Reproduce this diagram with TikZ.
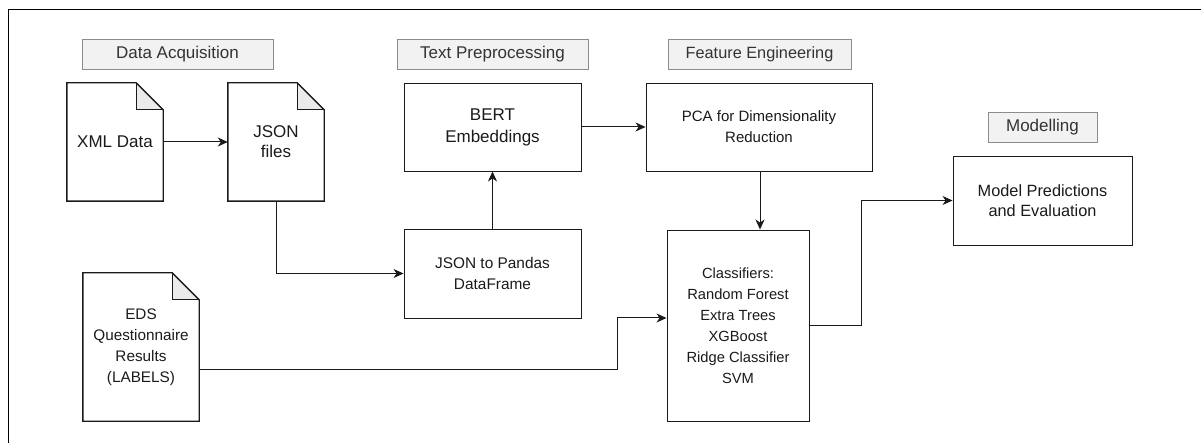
\documentclass[tikz,border=0pt]{standalone}
\usepackage{fontspec}
\setmainfont{Liberation Sans}
\usetikzlibrary{arrows.meta,calc}
\definecolor{lblfill}{HTML}{F2F2F2}
\definecolor{lbldraw}{HTML}{8C8C8C}
\definecolor{lbltext}{HTML}{333333}
\definecolor{foldfill}{HTML}{EBEBEB}
\definecolor{boxline}{HTML}{1A1A1A}
\newcommand{\fs}[2]{\fontsize{#1}{#2}\selectfont}
\begin{document}
\begin{tikzpicture}[x=1pt,y=-1pt,
  every node/.style={font=\fs{17}{21}, align=center, inner sep=0pt, text=boxline},
  stagelbl/.style={draw=lbldraw, fill=lblfill, text=lbltext, minimum height=30pt, line width=0.9pt},
  procbox/.style={draw=boxline, line width=0.95pt, minimum height=88pt},
  docnode/.style={minimum width=96pt, minimum height=118pt},
  conn/.style={draw=boxline, line width=1pt, -{Stealth[length=10pt,width=9pt,inset=3pt]}},
  docline/.style={draw=boxline, line width=1.4pt, line join=miter}
]
\useasboundingbox (0,0) rectangle (1201,443);
% outer frame (partly cropped)
\draw[line width=1pt] (8,443) -- (8,9.5) -- (1201,9.5);

% stage labels
\node[stagelbl, minimum width=191pt] (acq)  at (177.5,54) {Data Acquisition};
\node[stagelbl, minimum width=191pt] (pre)  at (492.5,54) {Text Preprocessing};
\node[stagelbl, minimum width=183pt, font=\fs{16.3}{20}] (feat) at (759.5,54) {Feature Engineering};
\node[stagelbl, minimum width=109pt] (mod)  at (1042.5,127) {Modelling};

% documents
\node[docnode] (xml)  at (115,142) {XML Data};
\node[docnode, font=\fs{17}{20}] (json) at (276,142) {JSON\\files};
\node[docnode, minimum width=116pt, minimum height=148pt, font=\fs{15.3}{21}] (eds) at (141,347) {EDS\\Questionnaire\\Results\\(LABELS)};
\foreach \d in {xml,json,eds}{
  \fill[foldfill] ($(\d.north east)+(-27,0)$) -- ($(\d.north east)+(0,27)$) -- ($(\d.north east)+(-27,27)$) -- cycle;
  \draw[docline] ($(\d.north east)+(-27,0)$) -- (\d.north west) -- (\d.south west) -- (\d.south east)
     -- ($(\d.north east)+(0,27)$) -- cycle;
  \draw[docline] ($(\d.north east)+(-27,0)$) -- ($(\d.north east)+(-27,27)$) -- ($(\d.north east)+(0,27)$);
}

% process boxes
\node[procbox, minimum width=177pt, font=\fs{17}{22}] (bert) at (492.5,127) {BERT\\Embeddings};
\node[procbox, minimum width=226pt, font=\fs{15}{21}] (pca) at (759,127) {PCA for Dimensionality\\Reduction};
\node[procbox, minimum width=177pt, minimum height=89pt, font=\fs{15.4}{21}] (pandas) at (492.5,273.5) {JSON to Pandas\\DataFrame};
\node[procbox, minimum width=142pt, minimum height=191pt, font=\fs{14.7}{21}] (cls) at (738,325.5) {Classifiers:\\Random Forest\\Extra Trees\\XGBoost\\Ridge Classifier\\SVM};
\node[procbox, minimum width=179pt, minimum height=89pt, font=\fs{16.3}{20}] (model) at (1042.5,200.5) {Model Predictions\\and Evaluation};

% connectors
\draw[conn] (xml.east) -- (json.west);
\draw[conn] (json.south) |- (pandas.west);
\draw[conn] (pandas.north) -- (bert.south);
\draw[conn] (bert.east) -- (pca.west);
\draw[conn] ([xshift=1pt]pca.south) -- ([xshift=1pt]pca.south |- cls.north);
\draw[conn] ([yshift=-22pt]eds.east) -- ++(418,0) |- ([yshift=7.5pt]cls.west);
\draw[conn] (cls.east) -- ++(52,0) |- (model.west);
\end{tikzpicture}
\end{document}
